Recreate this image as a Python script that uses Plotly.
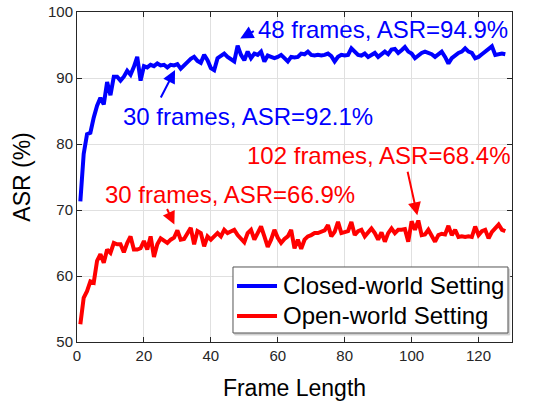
import plotly.graph_objects as go

frames = list(range(1, 129))

closed_asr = [
    71.3, 78.5, 81.5, 81.7, 84.0, 85.8, 87.0, 86.0, 89.4, 87.4,
    90.2, 90.2, 89.6, 90.2, 91.1, 90.5, 91.7, 93.2, 89.6, 91.8,
    91.6, 92.0, 91.8, 92.2, 91.9, 92.0, 91.6, 92.0, 91.9, 92.1,
    91.4, 92.0, 92.4, 92.9, 93.2, 92.6, 92.3, 93.5, 92.7, 91.5,
    91.2, 93.0, 93.4, 93.7, 93.2, 92.8, 92.5, 94.9, 93.5, 92.7,
    94.0, 93.0, 93.7, 93.5, 94.0, 92.5, 93.4, 93.2, 93.0, 93.2,
    93.5, 93.0, 92.5, 93.2, 93.1, 93.2, 93.7, 93.6, 94.0, 93.5,
    93.4, 93.5, 93.4, 93.5, 93.7, 93.3, 92.5, 93.2, 93.5, 93.4,
    93.5, 94.5, 94.0, 93.5, 93.4, 93.7, 93.2, 93.5, 93.8, 93.2,
    93.7, 94.0, 93.6, 94.3, 94.4, 93.8, 94.2, 94.7, 94.0, 93.7,
    93.0, 93.4, 93.8, 94.0, 93.8, 93.6, 93.2, 93.6, 94.0, 93.2,
    92.2, 93.0, 93.5, 93.8, 94.0, 94.5, 94.0, 93.8, 93.0, 93.2,
    93.6, 94.0, 94.3, 94.8, 93.5, 93.6, 93.7, 93.6,
]

open_asr = [
    52.7, 56.7, 57.7, 59.2, 59.0, 62.3, 63.3, 62.0, 64.0, 63.5,
    65.0, 64.8, 64.8, 63.6, 65.0, 66.0, 64.0, 64.0, 64.2, 65.3,
    64.0, 66.0, 62.9, 64.8, 65.7, 65.4, 65.0, 65.5, 65.8, 66.9,
    65.5, 65.6, 66.5, 67.3, 64.8, 66.8, 66.5, 64.5, 66.0, 65.5,
    66.0, 66.5, 66.0, 67.0, 66.5, 66.7, 67.0, 66.2, 65.6, 65.1,
    66.5, 67.0, 65.5, 66.5, 67.5, 66.0, 64.4, 65.5, 67.0, 65.8,
    65.0, 65.6, 66.0, 67.0, 64.2, 65.5, 64.1, 65.5, 66.0, 66.2,
    66.5, 66.5, 66.7, 66.9, 67.7, 66.0, 66.7, 68.2, 66.5, 66.6,
    66.8, 68.2, 66.2, 66.8, 67.0, 66.0, 66.6, 67.2, 66.5, 65.5,
    66.6, 65.2, 66.5, 67.2, 66.5, 67.0, 67.0, 67.1, 65.2, 68.3,
    67.0, 68.4, 66.2, 66.3, 67.0, 66.0, 65.2, 66.2, 66.4, 66.3,
    67.6, 66.2, 67.0, 65.9, 66.0, 65.9, 66.0, 65.9, 67.5, 66.2,
    66.8, 67.0, 65.7, 66.7, 67.2, 67.8, 67.0, 66.8,
]

series_names = ["Closed-world Setting", "Open-world Setting"]
series_colors = ["#0000FF", "#FF0000"]

x_ticks = [0, 20, 40, 60, 80, 100, 120]
y_ticks = [50, 60, 70, 80, 90, 100]

# annotation texts, arrow head points (data), text anchor (data), arrow tail offsets (px)
ann_texts = ["48 frames, ASR=94.9%", "30 frames, ASR=92.1%",
             "102 frames, ASR=68.4%", "30 frames, ASR=66.9%"]
ann_colors = ["#0000FF", "#0000FF", "#FF0000", "#FF0000"]
ann_head_x = [48.8, 29.3, 101.7, 29.1]
ann_head_y = [96.0, 91.2, 69.2, 67.8]
ann_tail_dx = [15, -15, -10, -8]
ann_tail_dy = [-8, 29, -45, -17]
ann_text_x = [53.6, 13.2, 50.3, 7.7]
ann_text_y = [97.3, 84.1, 78.3, 72.4]

FONT = "Arial, Liberation Sans, sans-serif"

fig = go.Figure()
for name, ys, col in zip(series_names, [closed_asr, open_asr], series_colors):
    fig.add_trace(go.Scatter(x=frames, y=ys, mode="lines", name=name,
                             line=dict(color=col, width=4), showlegend=False))

annotations = []
for t, c, hx, hy, dx, dy, tx, ty in zip(ann_texts, ann_colors, ann_head_x, ann_head_y,
                                         ann_tail_dx, ann_tail_dy, ann_text_x, ann_text_y):
    annotations.append(dict(x=hx, y=hy, xref="x", yref="y", text="", showarrow=True,
                            ax=dx, ay=dy, arrowcolor=c, arrowwidth=2, arrowhead=2,
                            arrowsize=1.3))
    annotations.append(dict(x=tx, y=ty, xref="x", yref="y", text=t, showarrow=False,
                            xanchor="left", yanchor="middle",
                            font=dict(family=FONT, size=24, color=c)))

# legend box (paper coordinates inside the axes)
leg_x0, leg_x1, leg_y0, leg_y1 = 0.3586, 0.9908, 0.0273, 0.2273
leg_line_x0, leg_line_x1, leg_text_x = 0.3678, 0.4598, 0.4690
leg_row_y = [0.1697, 0.0788]

shapes = [
    dict(type="rect", xref="paper", yref="paper", x0=leg_x0 + 0.004, x1=leg_x1 + 0.004,
         y0=leg_y0 - 0.006, y1=leg_y1 - 0.006, line=dict(color="#d0d0d0", width=1),
         fillcolor="#d0d0d0", layer="above"),
    dict(type="rect", xref="paper", yref="paper", x0=leg_x0, x1=leg_x1,
         y0=leg_y0, y1=leg_y1, line=dict(color="#555555", width=1),
         fillcolor="white", layer="above"),
]
for name, col, ry in zip(series_names, series_colors, leg_row_y):
    shapes.append(dict(type="line", xref="paper", yref="paper", x0=leg_line_x0,
                       x1=leg_line_x1, y0=ry, y1=ry, line=dict(color=col, width=4),
                       layer="above"))
    annotations.append(dict(x=leg_text_x, y=ry, xref="paper", yref="paper", text=name,
                            showarrow=False, xanchor="left", yanchor="middle",
                            font=dict(family=FONT, size=24, color="black")))

fig.update_layout(
    width=552, height=402,
    margin=dict(l=77, r=40, t=12, b=60, autoexpand=False),
    paper_bgcolor="white", plot_bgcolor="white",
    font=dict(family=FONT, color="#262626"),
    showlegend=False,
    annotations=annotations,
    shapes=shapes,
)
fig.update_xaxes(range=[0, 130], tickvals=x_ticks, ticks="inside", ticklen=5,
                 tickcolor="#262626", showline=True, linecolor="#262626", linewidth=1,
                 mirror="ticks", showgrid=True, gridcolor="#e0e0e0", zeroline=False,
                 automargin=False,
                 tickfont=dict(size=15, color="#262626"),
                 title=dict(text="Frame Length", font=dict(size=23, color="black"), standoff=16))
fig.update_yaxes(range=[50, 100], tickvals=y_ticks, ticks="inside", ticklen=5,
                 tickcolor="#262626", showline=True, linecolor="#262626", linewidth=1,
                 mirror="ticks", showgrid=True, gridcolor="#e0e0e0", zeroline=False,
                 automargin=False,
                 tickfont=dict(size=15, color="#262626"),
                 title=dict(text="ASR (%)", font=dict(size=23, color="black"), standoff=10))

fig.write_html("out.html")
